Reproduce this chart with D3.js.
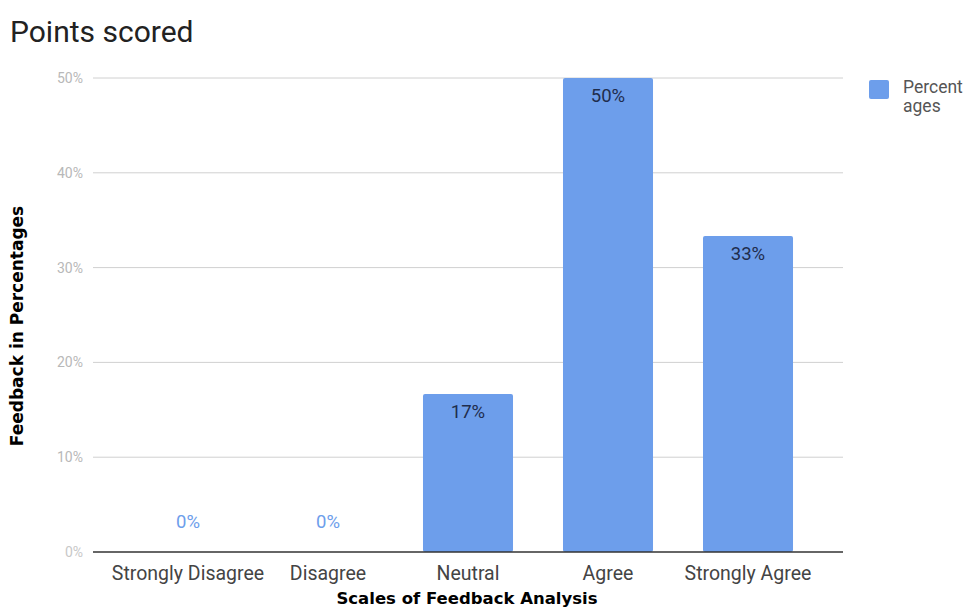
<!DOCTYPE html>
<html><head><meta charset="utf-8">
<script src="https://cdn.jsdelivr.net/npm/d3@7"></script>
<style>body{margin:0;background:#fff}svg{display:block}</style>
</head><body>
<svg id="c" width="968" height="608"></svg>
<script>
const categories = ["Strongly Disagree","Disagree","Neutral","Agree","Strongly Agree"];
const values = [0, 0, 16.67, 50, 33.33];
const valueLabels = ["0%","0%","17%","50%","33%"];
const yTicks = [0,10,20,30,40,50];
const seriesName = ["Percent","ages"];

const svg = d3.select("#c");
const m = {l:93, r:843, t:78, b:552};
const x = d3.scaleBand().domain(categories).range([m.l,m.r]).paddingInner(0.357).paddingOuter(0.357);
const y = d3.scaleLinear().domain([0,50]).range([m.b,m.t]);
const font = "Roboto, 'Liberation Sans', Arial, sans-serif";
const boldFont = "'DejaVu Sans', 'Liberation Sans', Arial, sans-serif";

svg.append("text").attr("x",10).attr("y",42).attr("font-family",font).attr("font-size",30).attr("fill","#222").text("Points scored");

// grid
svg.append("g").selectAll("line").data(yTicks.filter(d=>d>0)).join("line")
  .attr("x1",m.l).attr("x2",m.r).attr("y1",d=>y(d)).attr("y2",d=>y(d))
  .attr("stroke","#d0d0d0").attr("stroke-width",1);

svg.append("g").selectAll("text").data(yTicks).join("text")
  .attr("x",83).attr("y",d=>y(d)+5).attr("text-anchor","end")
  .attr("font-family",font).attr("font-size",14).attr("fill",d=>d===0?"#c8c8c8":"#b8b8b8")
  .text(d=>d+"%");

// bars
svg.append("g").selectAll("rect").data(values).join("rect")
  .attr("x",(d,i)=>x(categories[i])).attr("width",x.bandwidth())
  .attr("y",d=>y(d)).attr("height",d=>y(0)-y(d))
  .attr("rx",2).attr("fill","#6d9eeb");

// baseline
svg.append("line").attr("x1",m.l).attr("x2",m.r).attr("y1",y(0)).attr("y2",y(0)).attr("stroke","#333").attr("stroke-width",1.3);

// value labels
svg.append("g").selectAll("text").data(values).join("text")
  .attr("x",(d,i)=>x(categories[i])+x.bandwidth()/2)
  .attr("y",d=>d>0 ? y(d)+24 : y(0)-24)
  .attr("text-anchor","middle").attr("font-family",font).attr("font-size",18.5)
  .attr("fill",d=>d>0?"#1f2d4d":"#6d9eeb")
  .text((d,i)=>valueLabels[i]);

// x labels
svg.append("g").selectAll("text").data(categories).join("text")
  .attr("x",d=>x(d)+x.bandwidth()/2).attr("y",580).attr("text-anchor","middle")
  .attr("font-family",font).attr("font-size",19.5).attr("fill","#444").text(d=>d);

// axis titles
svg.append("text").attr("x",467).attr("y",604).attr("text-anchor","middle")
  .attr("font-family",boldFont).attr("font-weight","bold").attr("font-size",16.5).attr("fill","#000")
  .text("Scales of Feedback Analysis");
svg.append("text").attr("transform","translate(23,326) rotate(-90)").attr("text-anchor","middle")
  .attr("font-family",boldFont).attr("font-weight","bold").attr("font-size",17).attr("fill","#000")
  .text("Feedback in Percentages");

// legend
svg.append("rect").attr("x",869).attr("y",80).attr("width",20).attr("height",19).attr("rx",2).attr("fill","#6d9eeb");
svg.append("text").attr("x",903).attr("y",93).attr("font-family",font).attr("font-size",17.5).attr("fill","#555")
  .selectAll("tspan").data(seriesName).join("tspan").attr("x",903).attr("dy",(d,i)=>i?19:0).text(d=>d);
</script>
</body></html>
